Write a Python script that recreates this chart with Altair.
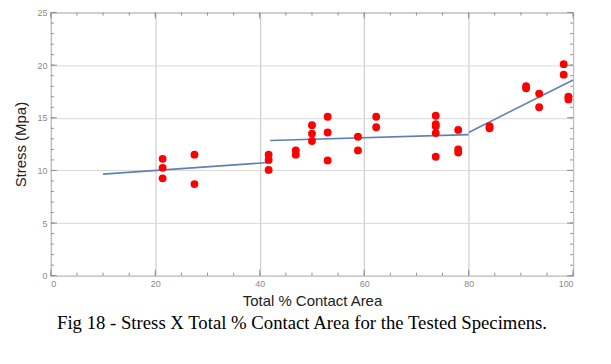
import altair as alt
import pandas as pd

# ---- data ----
contact = [21.4, 21.4, 21.4, 27.5, 27.5, 41.7, 41.7, 41.7, 46.9, 46.9,
           50.0, 50.0, 50.0, 53.0, 53.0, 53.0, 58.8, 58.8, 62.3, 62.3,
           73.7, 73.7, 73.7, 73.7, 73.7, 78.0, 78.0, 78.0, 84.0, 84.0,
           91.0, 91.0, 93.5, 93.5, 98.2, 98.2, 99.1, 99.1]
stress = [11.1, 10.25, 9.25, 11.5, 8.7, 11.5, 11.0, 10.05, 11.9, 11.5,
          14.3, 13.5, 12.8, 15.1, 13.6, 10.95, 13.2, 11.9, 15.1, 14.1,
          15.2, 14.4, 14.2, 13.55, 11.3, 13.85, 12.0, 11.7, 14.2, 14.0,
          18.0, 17.8, 17.3, 16.0, 20.1, 19.1, 17.0, 16.75]

fit_segment = ["a", "a", "b", "b", "c", "c"]
fit_x = [10, 41.7, 42, 80, 80, 100]
fit_y = [9.65, 10.75, 12.85, 13.4, 13.6, 18.6]

x_major = [0, 20, 40, 60, 80, 100]
x_minor = [0, 5, 10, 15, 20, 25, 30, 35, 40, 45, 50, 55, 60, 65, 70, 75, 80, 85, 90, 95, 100]
y_major = [0, 5, 10, 15, 20, 25]
y_minor = [0, 1, 2, 3, 4, 5, 6, 7, 8, 9, 10, 11, 12, 13, 14, 15, 16, 17, 18, 19, 20, 21, 22, 23, 24, 25]

caption = "Fig 18 - Stress X Total % Contact Area for the Tested Specimens."

# ---- styling ----
W, H = 524, 264
FRAME = "#8f8f8f"
LABEL = "#8a8a8a"
xs = alt.Scale(domain=[0, 100], nice=False, zero=False)
ys = alt.Scale(domain=[0, 25], nice=False, zero=False)

x_axis = alt.Axis(values=x_major, grid=True, gridColor="#c4c4c4", ticks=False, domain=False,
                  labelColor=LABEL, labelFontSize=9, labelFont="Liberation Sans", labelPadding=4,
                  title="Total % Contact Area", titleFont="Liberation Sans", titleFontSize=15,
                  titleFontWeight="normal", titleColor="#222222", titlePadding=5)
y_axis = alt.Axis(values=y_major, grid=True, gridColor="#d8d8d8", ticks=False, domain=False,
                  labelColor=LABEL, labelFontSize=9, labelFont="Liberation Sans", labelPadding=4,
                  title="Stress (Mpa)", titleFont="Liberation Sans", titleFontSize=15,
                  titleFontWeight="normal", titleColor="#222222", titlePadding=8)

pts = pd.DataFrame({"contact": contact, "stress": stress})
fit = pd.DataFrame({"seg": fit_segment, "x": fit_x, "y": fit_y})

points = alt.Chart(pts).mark_circle(color="#ff0000", opacity=1, size=62).encode(
    x=alt.X("contact:Q", scale=xs, axis=x_axis),
    y=alt.Y("stress:Q", scale=ys, axis=y_axis),
)

lines = alt.Chart(fit).mark_line(color="#5e81b5", strokeWidth=1.6).encode(
    x=alt.X("x:Q", scale=xs, axis=x_axis),
    y=alt.Y("y:Q", scale=ys, axis=y_axis),
    detail="seg:N",
)


def xticks(vals, length):
    base = alt.Chart(pd.DataFrame({"v": vals})).mark_rule(color=FRAME, strokeWidth=1)
    xe = alt.X("v:Q", scale=xs, axis=x_axis)
    return [base.encode(x=xe, y=alt.value(H), y2=alt.value(H - length)),
            base.encode(x=xe, y=alt.value(0), y2=alt.value(length))]


def yticks(vals, length):
    base = alt.Chart(pd.DataFrame({"v": vals})).mark_rule(color=FRAME, strokeWidth=1)
    ye = alt.Y("v:Q", scale=ys, axis=y_axis)
    return [base.encode(y=ye, x=alt.value(0), x2=alt.value(length)),
            base.encode(y=ye, x=alt.value(W), x2=alt.value(W - length))]


tick_layers = xticks(x_minor, 3) + xticks(x_major, 6) + yticks(y_minor, 3) + yticks(y_major, 6)

chart = alt.layer(*tick_layers, lines, points).properties(
    width=W, height=H,
    autosize="none",
    padding={"left": 43, "top": 4, "right": 30, "bottom": 76},
    title=alt.TitleParams(text=caption, orient="bottom", anchor="middle", font="Liberation Serif",
                          fontSize=18.8, fontWeight="normal", color="#000000", offset=5, dx=-10),
).configure_view(stroke=FRAME, strokeWidth=1)

chart.save("out.html", embed_options={"renderer": "svg", "actions": False})
